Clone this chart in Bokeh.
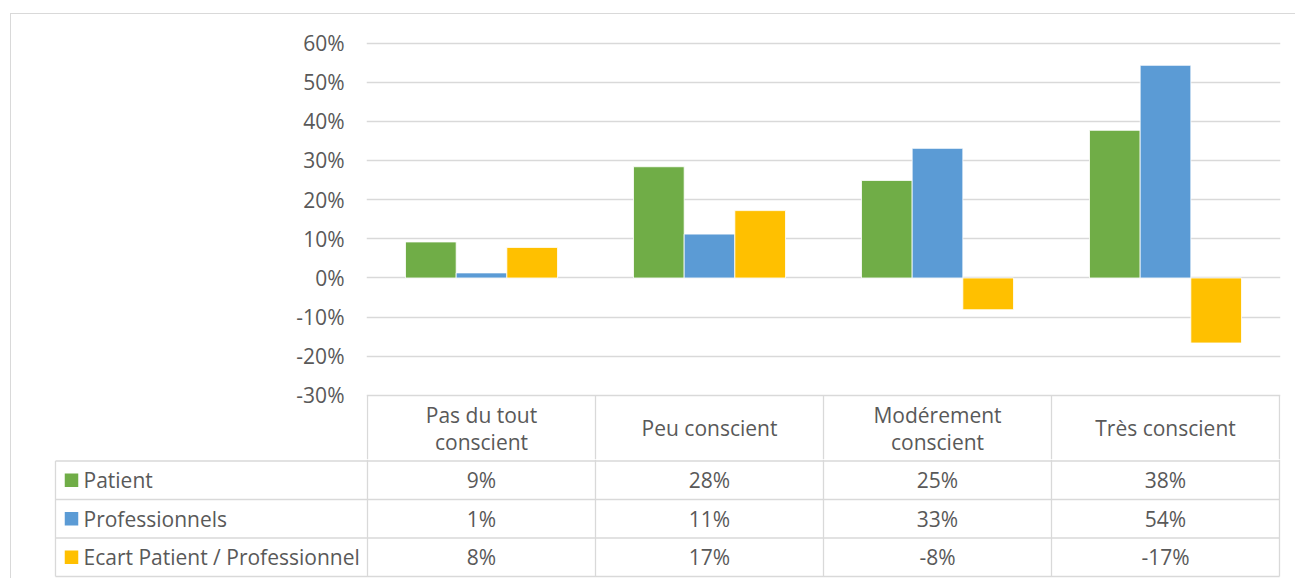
from bokeh.plotting import figure
from bokeh.models import Range1d, FixedTicker, NumeralTickFormatter
from bokeh.layouts import column, row
from bokeh.embed import file_html
from bokeh.resources import INLINE
from bokeh.core.properties import value

# ---------------- data ----------------
categories = ["Pas du tout\nconscient", "Peu conscient", "Modérement\nconscient", "Très conscient"]
series_names = ["Patient", "Professionnels", "Ecart Patient / Professionnel"]
patient = [0.092, 0.284, 0.249, 0.377]
professionnels = [0.013, 0.112, 0.331, 0.543]
ecart = [0.078, 0.172, -0.081, -0.166]
y_ticks = [-0.3, -0.2, -0.1, 0.0, 0.1, 0.2, 0.3, 0.4, 0.5, 0.6]
colors = ["#70AD47", "#5B9BD5", "#FFC000"]

series = [patient, professionnels, ecart]

# ---------------- style ----------------
FONT = value("Open Sans")
FS = value("21px")
TXT = "#595959"
GRID = "#D9D9D9"
CAT_PX = 228.0      # pixels per category
Y_PX = 391.5        # pixels per 100 %
BAR_W = 0.2222
n = len(categories)

HEADER_H = 65.5     # table header height (px)
ROW_H = 38.5        # table row height (px)
P_BOTTOM = 64.0     # chart frame ends this many px below the -30 % line

y_lo = min(y_ticks)
y_hi = max(y_ticks)
y_start = y_lo - P_BOTTOM / Y_PX
y_end = y_hi + 2.5 / Y_PX

# ---------------- chart (with the table header) ----------------
p = figure(frame_width=int(n * CAT_PX + 2), frame_height=419,
           x_range=Range1d(-1 / CAT_PX, n + 1 / CAT_PX),
           y_range=Range1d(y_start, y_end),
           output_backend="svg", toolbar_location=None,
           min_border_left=355, min_border_right=15,
           min_border_top=26, min_border_bottom=0)
p.outline_line_color = None
p.xaxis.visible = False
p.xgrid.visible = False
p.ygrid.ticker = FixedTicker(ticks=y_ticks)
p.ygrid.grid_line_color = GRID
p.ygrid.grid_line_width = 1.3
p.yaxis.ticker = FixedTicker(ticks=y_ticks)
p.yaxis.formatter = NumeralTickFormatter(format="0%")
p.yaxis.axis_line_color = None
p.yaxis.major_tick_line_color = None
p.yaxis.minor_tick_line_color = None
p.yaxis.major_tick_out = 0
p.yaxis.major_tick_in = 0
p.yaxis.major_label_standoff = 22
p.yaxis.major_label_text_font = "Open Sans"
p.yaxis.major_label_text_font_size = "21px"
p.yaxis.major_label_text_color = TXT

for j, (vals, col) in enumerate(zip(series, colors)):
    off = (j - 1) * BAR_W
    xs = [i + 0.5 + off for i in range(n)]
    p.vbar(x=xs, top=vals, bottom=0, width=BAR_W, fill_color=col,
           line_color="white", line_width=0.8)

# table header: vertical separators and category labels
p.segment(x0=list(range(n + 1)), y0=[y_lo] * (n + 1),
          x1=list(range(n + 1)), y1=[y_start] * (n + 1),
          line_color=GRID, line_width=1.3)
p.text(x=[i + 0.5 for i in range(n)], y=[y_lo - (HEADER_H / 2) / Y_PX] * n,
       text=categories, text_align="center", text_baseline="middle",
       text_font=FONT, text_font_size=FS, text_color=TXT,
       text_line_height=0.98)

# ---------------- data table rows ----------------
LEFT = -312 / CAT_PX
bounds = [HEADER_H + k * ROW_H for k in range(len(series) + 1)]
TABLE_BOTTOM = bounds[-1]

q = figure(frame_width=1230, frame_height=119,
           x_range=Range1d(-315 / CAT_PX, 915 / CAT_PX),
           y_range=Range1d(P_BOTTOM + 119, P_BOTTOM),
           output_backend="svg", toolbar_location=None,
           min_border_left=41, min_border_right=13,
           min_border_top=0, min_border_bottom=0)
q.outline_line_color = None
q.axis.visible = False
q.grid.visible = False

# horizontal lines
q.segment(x0=[LEFT] * len(bounds), y0=bounds, x1=[n] * len(bounds), y1=bounds,
          line_color=GRID, line_width=1.3)
# vertical lines
q.segment(x0=list(range(n + 1)), y0=[P_BOTTOM] * (n + 1),
          x1=list(range(n + 1)), y1=[TABLE_BOTTOM] * (n + 1),
          line_color=GRID, line_width=1.3)
q.segment(x0=[LEFT], y0=[HEADER_H], x1=[LEFT], y1=[TABLE_BOTTOM],
          line_color=GRID, line_width=1.3)

for k, (name, vals, col) in enumerate(zip(series_names, series, colors)):
    yc = HEADER_H + (k + 0.5) * ROW_H
    q.rect(x=[LEFT + 16 / CAT_PX], y=[yc], width=13.5, height=13.5,
           width_units="screen", height_units="screen",
           fill_color=col, line_color=None)
    q.text(x=[LEFT + 28 / CAT_PX], y=[yc], text=[name], text_align="left",
           text_baseline="middle", text_font=FONT, text_font_size=FS,
           text_color=TXT)
    q.text(x=[i + 0.5 for i in range(n)], y=[yc] * n,
           text=[f"{round(v * 100)}%" for v in vals],
           text_align="center", text_baseline="middle", text_font=FONT,
           text_font_size=FS, text_color=TXT)

layout = column(row(p), row(q), margin=(13, 0, 0, 10),
                styles={"border-left": "1px solid #D9D9D9",
                        "border-top": "1px solid #D9D9D9"})

open("out.html", "w").write(file_html(layout, INLINE))
